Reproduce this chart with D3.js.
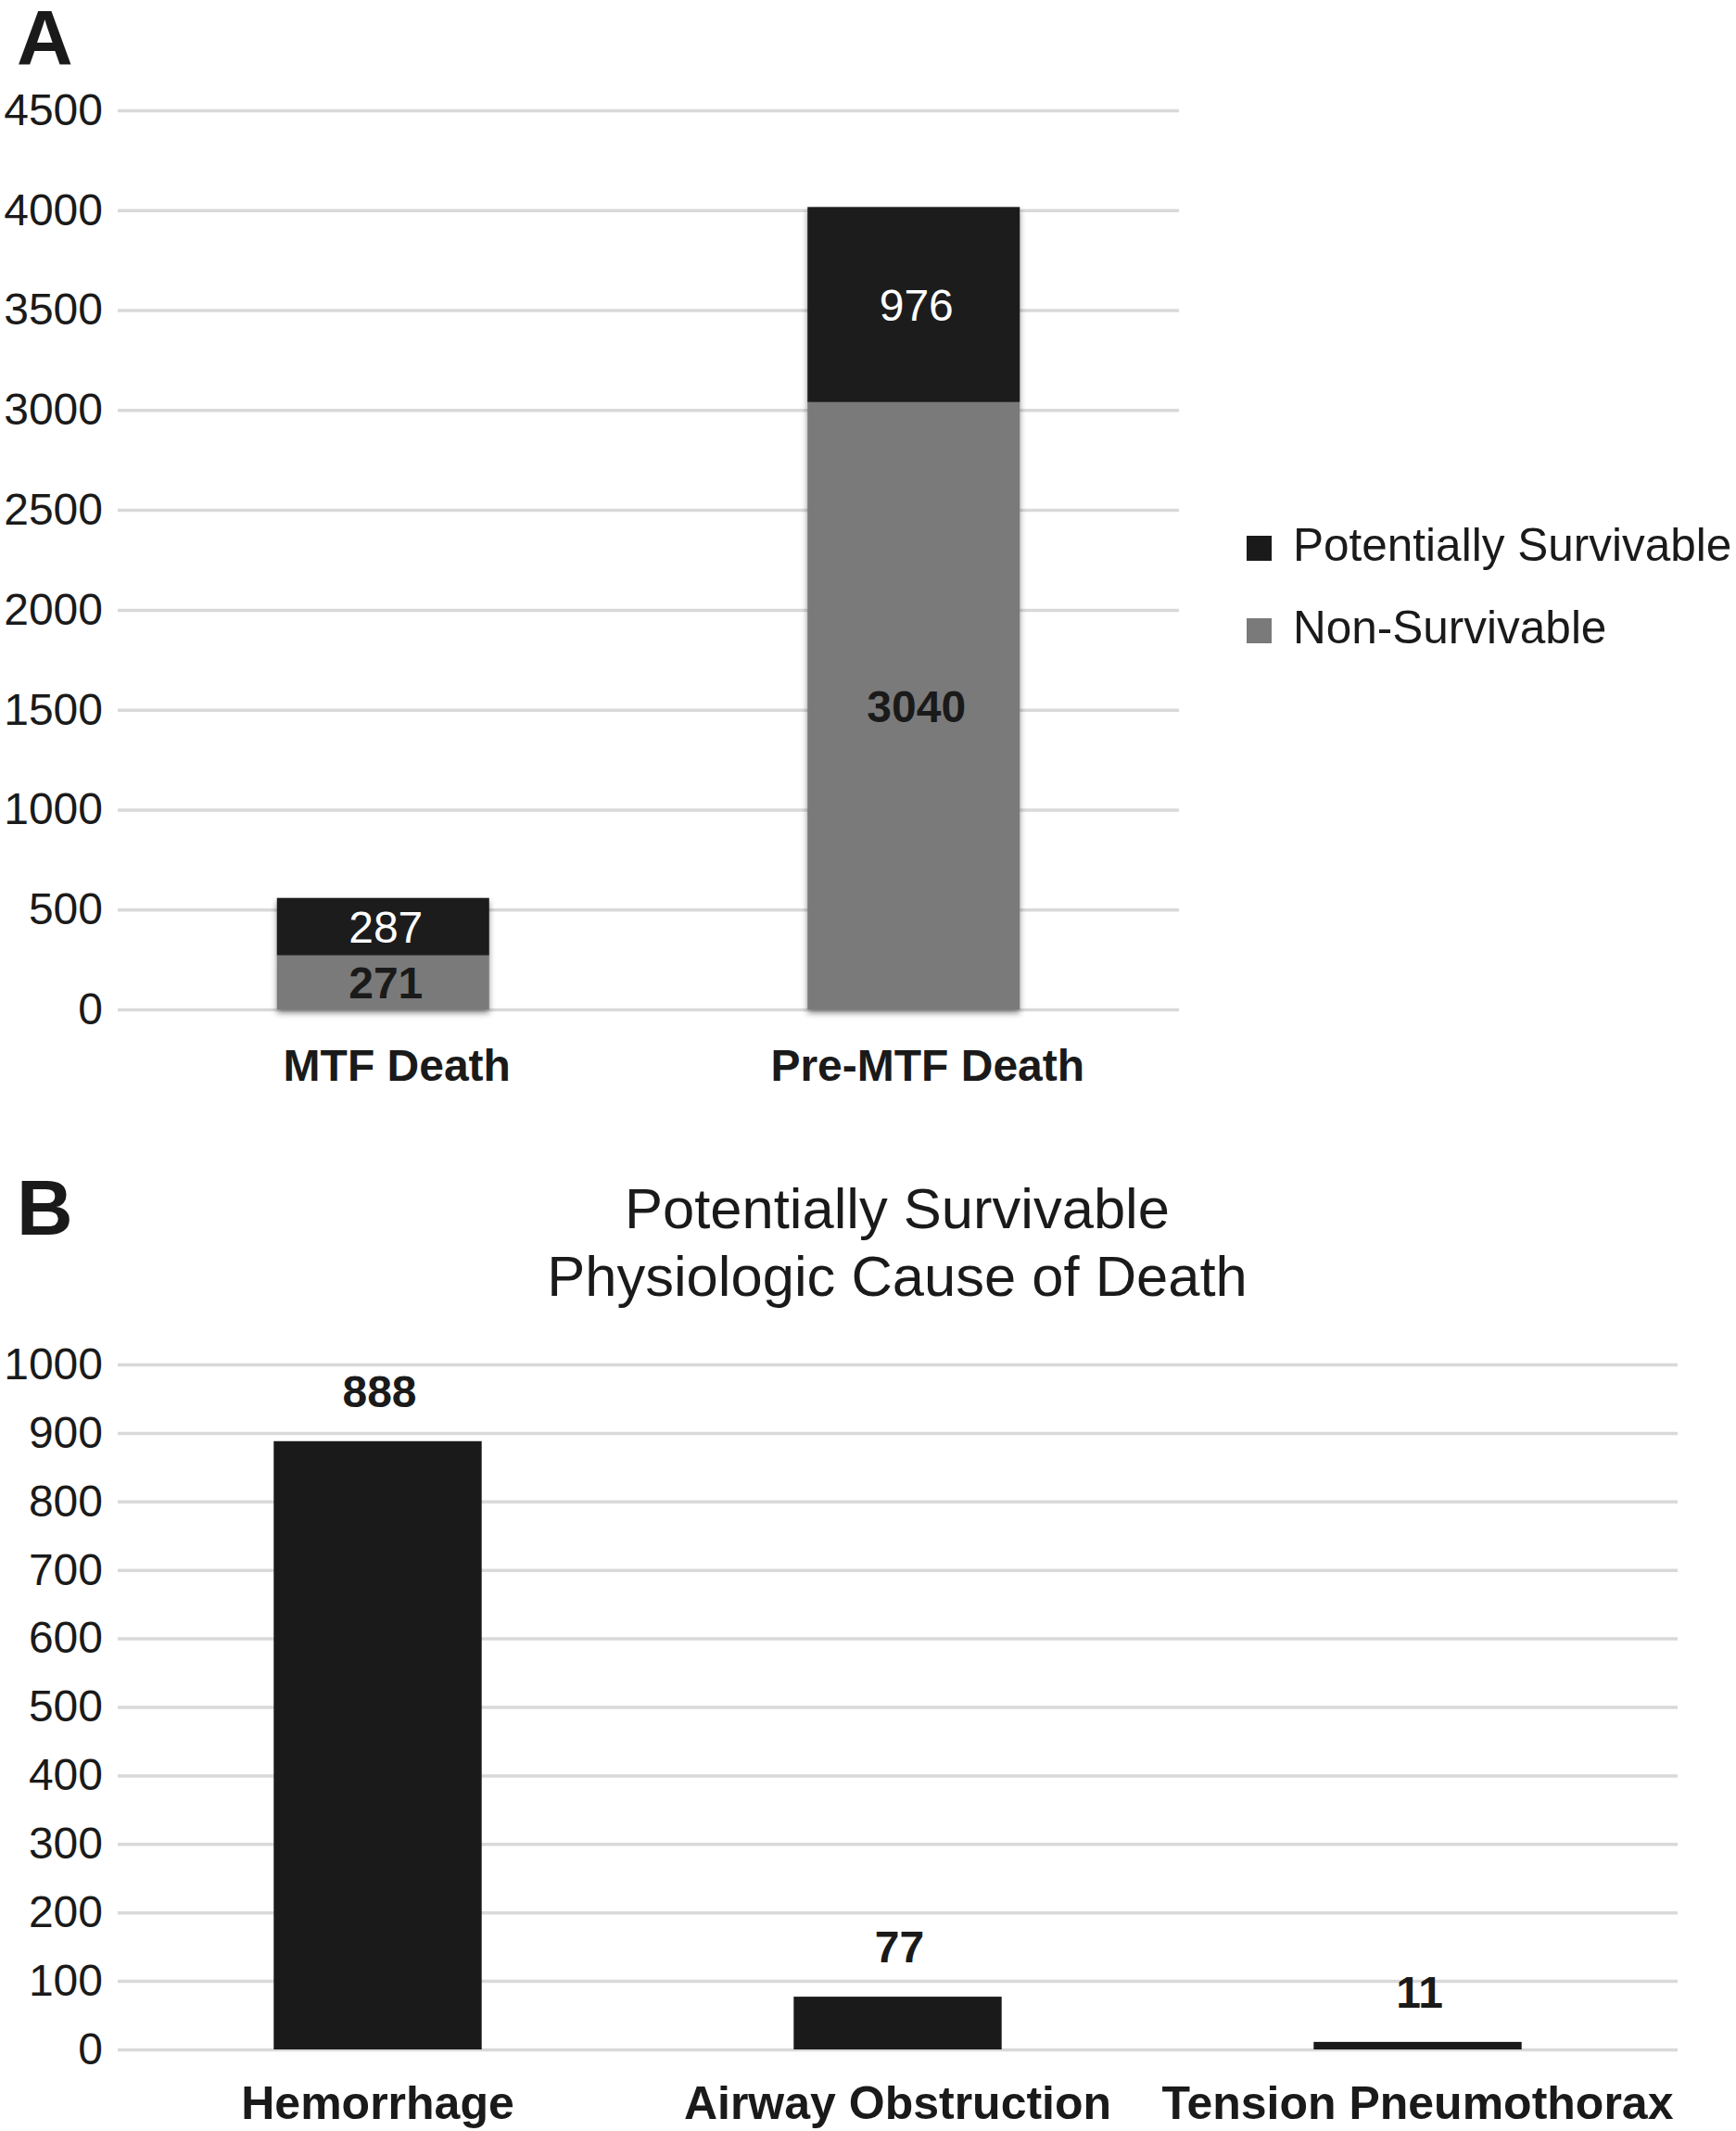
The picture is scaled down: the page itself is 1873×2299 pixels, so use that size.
<!DOCTYPE html>
<html>
<head>
<meta charset="utf-8">
<script src="https://cdn.jsdelivr.net/npm/d3@7"></script>
<style>
  body { margin: 0; background: #fff; }
  text { font-family: "Liberation Sans", Arial, Helvetica, sans-serif; fill: #1a1a1a; }
</style>
</head>
<body>
<div id="stage"></div>
<script>
// panel A data
var cats_a = ['MTF Death', 'Pre-MTF Death'];
var non_survivable = [271, 3040];
var pot_survivable = [287, 976];
var ticks_a = [0, 500, 1000, 1500, 2000, 2500, 3000, 3500, 4000, 4500];
var legend_a = ['Potentially Survivable', 'Non-Survivable'];

// panel B data
var cats_b = ['Hemorrhage', 'Airway Obstruction', 'Tension Pneumothorax'];
var values_b = [888, 77, 11];
var ticks_b = [0, 100, 200, 300, 400, 500, 600, 700, 800, 900, 1000];
var title_b = ['Potentially Survivable', 'Physiologic Cause of Death'];

var W = 1873, H = 2299;
var dark = '#1a1a1a', grey = '#7a7a7a', grid = '#d9d9d9';
var fs = 48;

var svg = d3.select('#stage').append('svg')
    .attr('width', W).attr('height', H);

// soft drop shadow under the stacked bars
var shadow = svg.append('defs').append('filter')
    .attr('id', 'shadow').attr('x', '-10%').attr('y', '-10%')
    .attr('width', '120%').attr('height', '130%');
shadow.append('feDropShadow')
    .attr('dx', 0).attr('dy', 4).attr('stdDeviation', 3)
    .attr('flood-color', '#000').attr('flood-opacity', 0.45);

function y_axis(g, scale, ticks, width) {
    g.call(d3.axisLeft(scale).tickValues(ticks).tickFormat(d3.format('d'))
            .tickSize(-width).tickPadding(16))
        .call(function (a) { a.select('.domain').remove(); })
        .call(function (a) {
            a.selectAll('.tick line').attr('stroke', grid).attr('stroke-width', 3.5);
            a.selectAll('.tick text').attr('font-size', fs).attr('fill', dark)
                .style('font-family', '"Liberation Sans", Arial, sans-serif');
        });
}

/* ---------- panel A ---------- */
svg.append('text').attr('x', 18).attr('y', 70)
    .attr('font-size', 84).attr('font-weight', 'bold').text('A');

var xa = d3.scaleBand().domain(cats_a).range([127, 1272])
    .paddingInner(0.6).paddingOuter(0.3);
var ya = d3.scaleLinear().domain([0, 4500]).range([1089, 119]);

svg.append('g').attr('transform', 'translate(127,0)')
    .call(y_axis, ya, ticks_a, 1272 - 127);

var rows_a = cats_a.map(function (c, i) {
    return {cat: c, non: non_survivable[i], pot: pot_survivable[i]};
});
var series = d3.stack().keys(['non', 'pot'])(rows_a);
var seg_style = {
    non: {fill: grey, text: dark, weight: 'bold'},
    pot: {fill: dark, text: '#fff', weight: 'normal'}
};

var bars_a = svg.append('g').attr('filter', 'url(#shadow)');
series.forEach(function (s) {
    bars_a.selectAll('rect.' + s.key).data(s).enter().append('rect')
        .attr('class', s.key)
        .attr('x', function (d) { return xa(d.data.cat); })
        .attr('width', xa.bandwidth())
        .attr('y', function (d) { return ya(d[1]); })
        .attr('height', function (d) { return ya(d[0]) - ya(d[1]); })
        .attr('fill', seg_style[s.key].fill);
});
series.forEach(function (s) {
    svg.append('g').selectAll('text').data(s).enter().append('text')
        .attr('x', function (d) { return xa(d.data.cat) + xa.bandwidth() / 2 + 3; })
        .attr('y', function (d) { return (ya(d[0]) + ya(d[1])) / 2; })
        .attr('dy', '0.36em')
        .attr('text-anchor', 'middle')
        .attr('font-size', fs)
        .attr('font-weight', seg_style[s.key].weight)
        .style('fill', seg_style[s.key].text)
        .text(function (d) { return d[1] - d[0]; });
});

svg.append('g').selectAll('text').data(cats_a).enter().append('text')
    .attr('x', function (d) { return xa(d) + xa.bandwidth() / 2 + 15; })
    .attr('y', 1166)
    .attr('text-anchor', 'middle')
    .attr('font-size', fs).attr('font-weight', 'bold')
    .text(function (d) { return d; });

// legend
var leg = svg.append('g').selectAll('g').data(legend_a).enter().append('g')
    .attr('transform', function (d, i) { return 'translate(1345,' + (578 + i * 89) + ')'; });
leg.append('rect').attr('width', 27).attr('height', 27)
    .attr('fill', function (d, i) { return i == 0 ? dark : grey; });
leg.append('text').attr('x', 50).attr('y', 27)
    .attr('font-size', 49.5)
    .text(function (d) { return d; });

/* ---------- panel B ---------- */
svg.append('text').attr('x', 18).attr('y', 1332)
    .attr('font-size', 84).attr('font-weight', 'bold').text('B');

svg.append('g').selectAll('text').data(title_b).enter().append('text')
    .attr('x', 968)
    .attr('y', function (d, i) { return 1325 + i * 73; })
    .attr('text-anchor', 'middle')
    .attr('font-size', 61.5)
    .text(function (d) { return d; });

var xb = d3.scaleBand().domain(cats_b).range([127, 1810])
    .paddingInner(0.6).paddingOuter(0.3);
var yb = d3.scaleLinear().domain([0, 1000]).range([2211, 1472]);

svg.append('g').attr('transform', 'translate(127,0)')
    .call(y_axis, yb, ticks_b, 1810 - 127);

var rows_b = cats_b.map(function (c, i) { return {cat: c, v: values_b[i]}; });

svg.append('g').selectAll('rect').data(rows_b).enter().append('rect')
    .attr('x', function (d) { return xb(d.cat); })
    .attr('width', xb.bandwidth())
    .attr('y', function (d) { return yb(d.v); })
    .attr('height', function (d) { return yb(0) - yb(d.v); })
    .attr('fill', dark);

svg.append('g').selectAll('text').data(rows_b).enter().append('text')
    .attr('x', function (d) { return xb(d.cat) + xb.bandwidth() / 2 + 2; })
    .attr('y', function (d) { return yb(d.v) - 37; })
    .attr('text-anchor', 'middle')
    .attr('font-size', fs).attr('font-weight', 'bold')
    .text(function (d) { return d.v; });

svg.append('g').selectAll('text').data(cats_b).enter().append('text')
    .attr('x', function (d) { return xb(d) + xb.bandwidth() / 2; })
    .attr('y', 2286)
    .attr('text-anchor', 'middle')
    .attr('font-size', 50).attr('font-weight', 'bold')
    .text(function (d) { return d; });
</script>
</body>
</html>
